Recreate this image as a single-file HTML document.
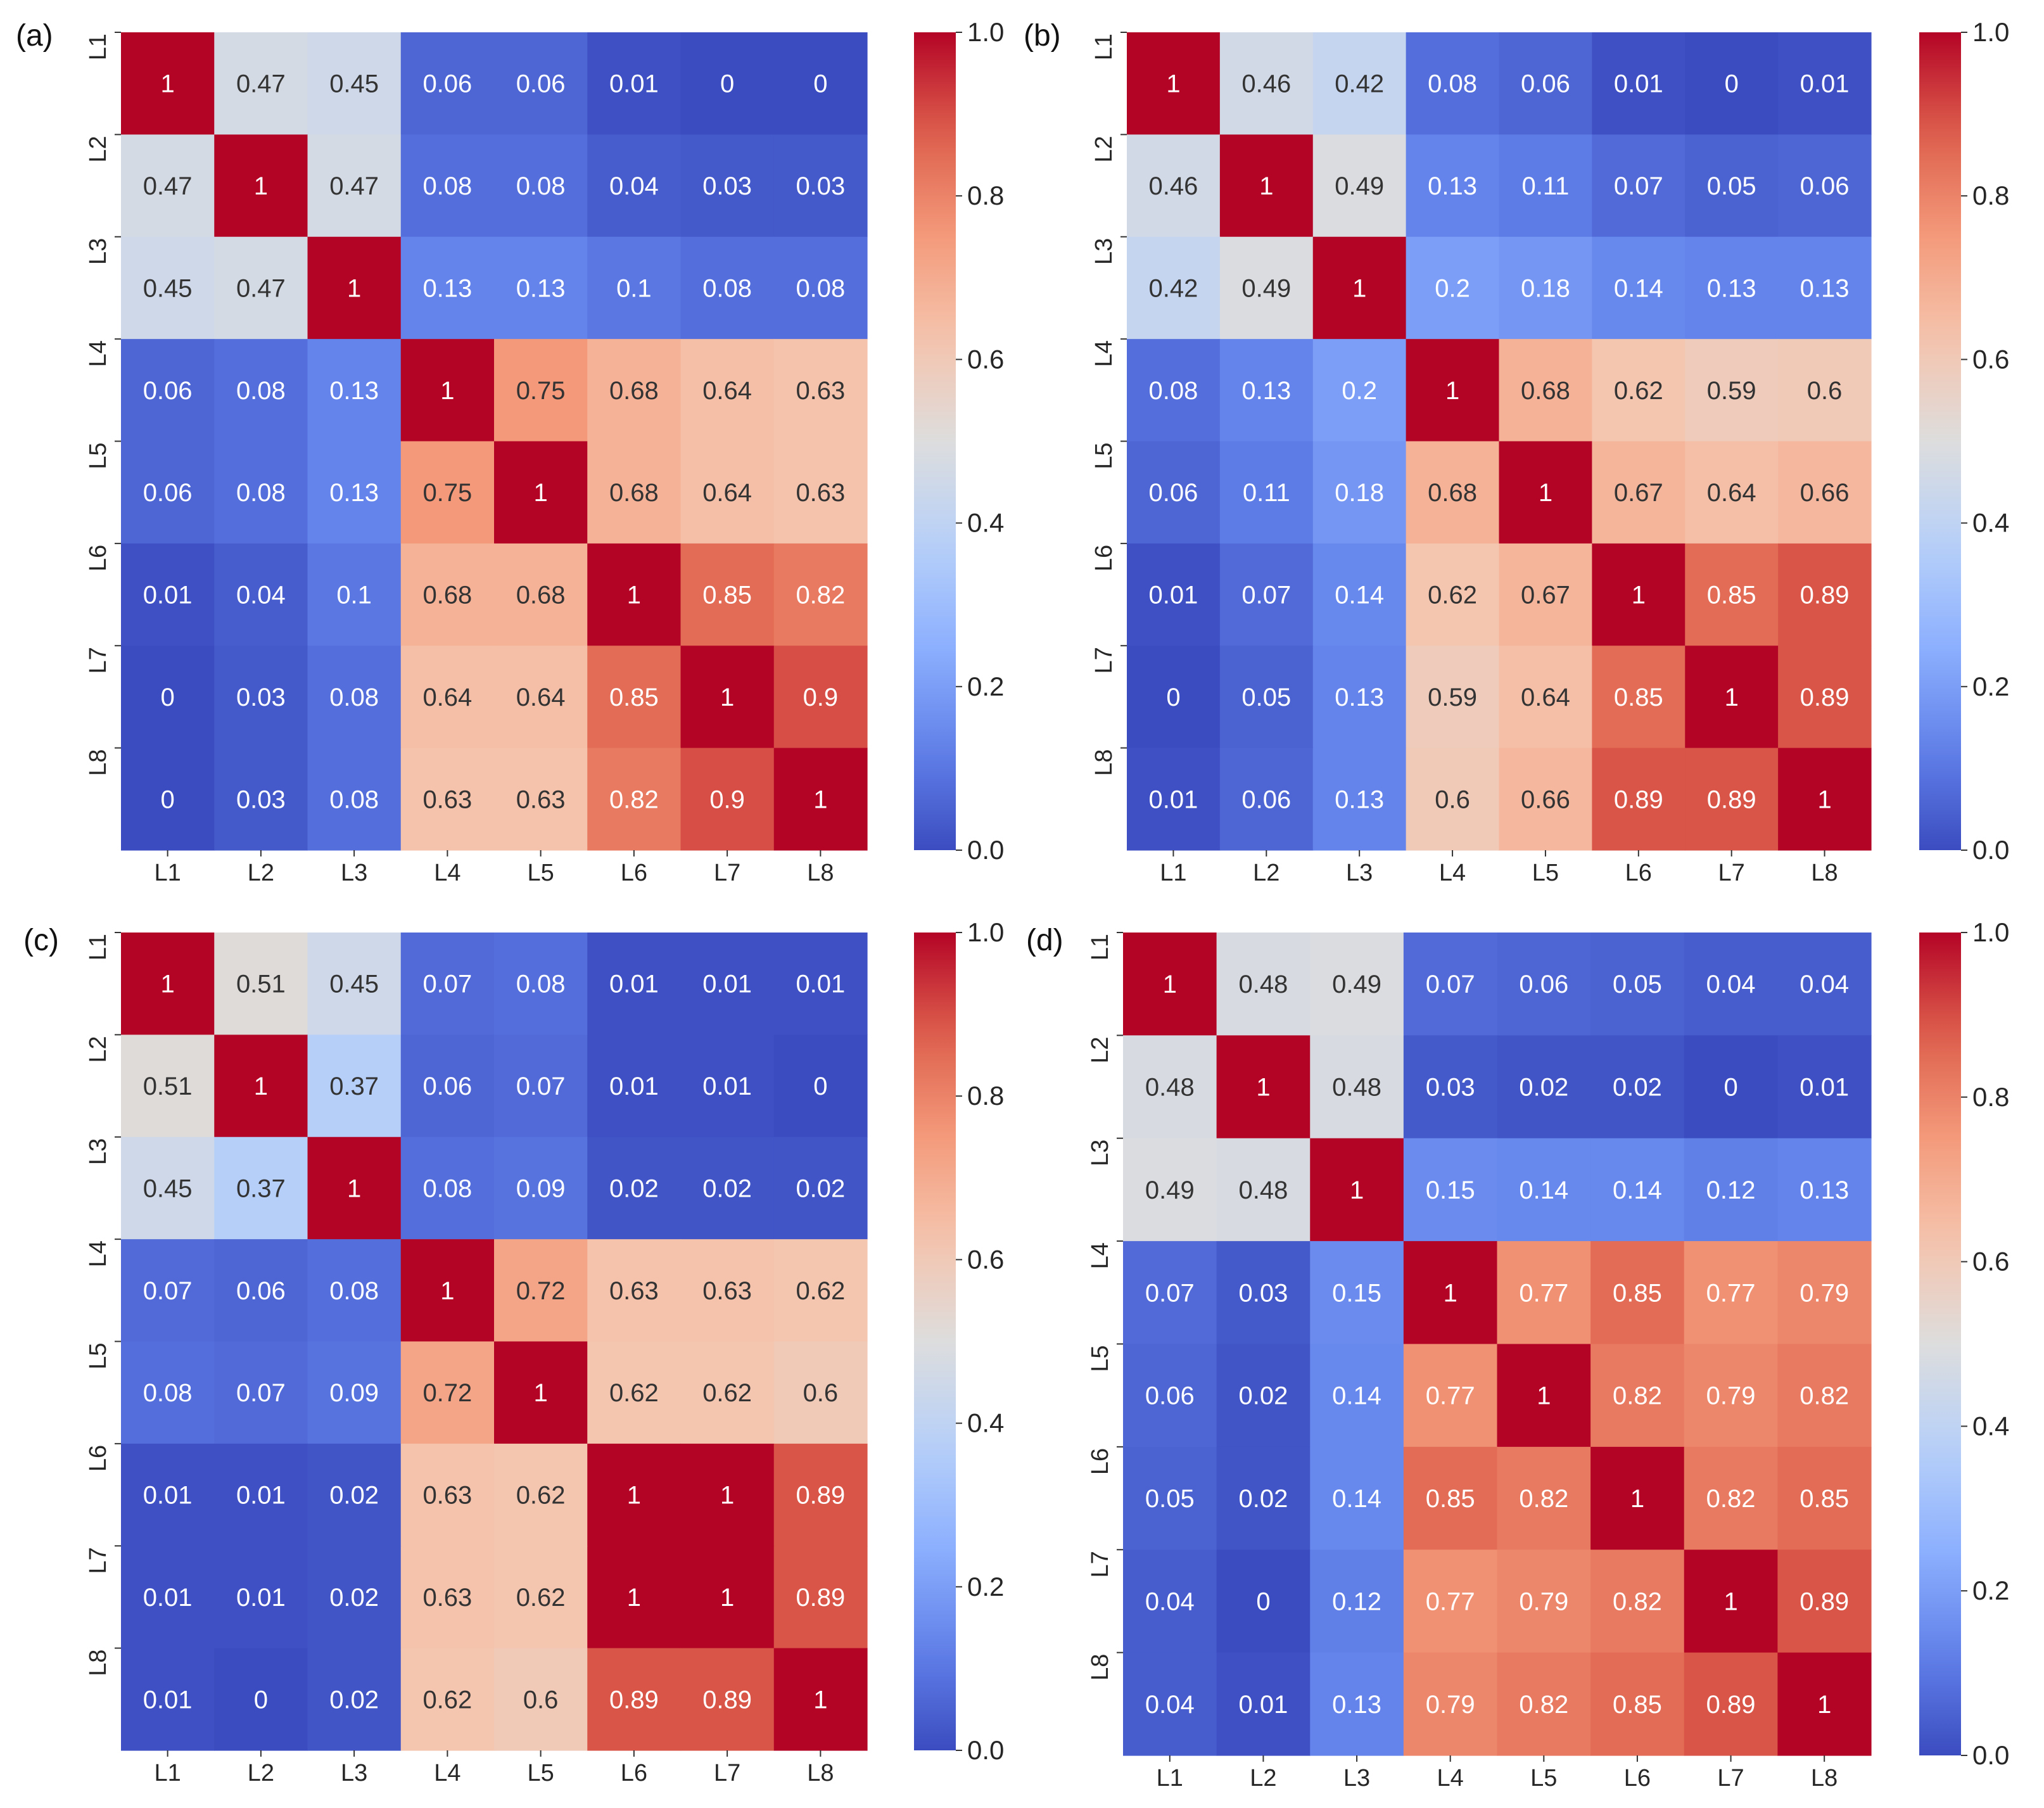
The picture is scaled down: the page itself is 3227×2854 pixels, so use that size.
<!DOCTYPE html>
<html><head><meta charset="utf-8"><style>
html,body{margin:0;padding:0;background:#fff;}
svg{display:block;font-family:"Liberation Sans",Arial,sans-serif;}
</style></head><body>
<svg id="fig" width="3227" height="2854" viewBox="0 0 3227 2854" xmlns="http://www.w3.org/2000/svg"></svg>
<script>
const labels = ["L1","L2","L3","L4","L5","L6","L7","L8"];
const cbTicks = [0,0.2,0.4,0.6,0.8,1.0];
const matA = [
[1,0.47,0.45,0.06,0.06,0.01,0,0],
[0.47,1,0.47,0.08,0.08,0.04,0.03,0.03],
[0.45,0.47,1,0.13,0.13,0.1,0.08,0.08],
[0.06,0.08,0.13,1,0.75,0.68,0.64,0.63],
[0.06,0.08,0.13,0.75,1,0.68,0.64,0.63],
[0.01,0.04,0.1,0.68,0.68,1,0.85,0.82],
[0,0.03,0.08,0.64,0.64,0.85,1,0.9],
[0,0.03,0.08,0.63,0.63,0.82,0.9,1]];
const matB = [
[1,0.46,0.42,0.08,0.06,0.01,0,0.01],
[0.46,1,0.49,0.13,0.11,0.07,0.05,0.06],
[0.42,0.49,1,0.2,0.18,0.14,0.13,0.13],
[0.08,0.13,0.2,1,0.68,0.62,0.59,0.6],
[0.06,0.11,0.18,0.68,1,0.67,0.64,0.66],
[0.01,0.07,0.14,0.62,0.67,1,0.85,0.89],
[0,0.05,0.13,0.59,0.64,0.85,1,0.89],
[0.01,0.06,0.13,0.6,0.66,0.89,0.89,1]];
const matC = [
[1,0.51,0.45,0.07,0.08,0.01,0.01,0.01],
[0.51,1,0.37,0.06,0.07,0.01,0.01,0],
[0.45,0.37,1,0.08,0.09,0.02,0.02,0.02],
[0.07,0.06,0.08,1,0.72,0.63,0.63,0.62],
[0.08,0.07,0.09,0.72,1,0.62,0.62,0.6],
[0.01,0.01,0.02,0.63,0.62,1,1,0.89],
[0.01,0.01,0.02,0.63,0.62,1,1,0.89],
[0.01,0,0.02,0.62,0.6,0.89,0.89,1]];
const matD = [
[1,0.48,0.49,0.07,0.06,0.05,0.04,0.04],
[0.48,1,0.48,0.03,0.02,0.02,0,0.01],
[0.49,0.48,1,0.15,0.14,0.14,0.12,0.13],
[0.07,0.03,0.15,1,0.77,0.85,0.77,0.79],
[0.06,0.02,0.14,0.77,1,0.82,0.79,0.82],
[0.05,0.02,0.14,0.85,0.82,1,0.82,0.85],
[0.04,0,0.12,0.77,0.79,0.82,1,0.89],
[0.04,0.01,0.13,0.79,0.82,0.85,0.89,1]];

const NS="http://www.w3.org/2000/svg";
const svg=document.getElementById('fig');
const stops=[[0,[59,76,192]],[0.125,[98,130,234]],[0.25,[141,176,254]],[0.375,[184,208,249]],[0.5,[221,221,221]],[0.625,[245,196,173]],[0.75,[244,154,123]],[0.875,[222,96,77]],[1,[180,4,38]]];
function cmap(v){v=Math.max(0,Math.min(1,v));for(let i=0;i<stops.length-1;i++){const[a,ca]=stops[i],[b,cb]=stops[i+1];if(v<=b){const t=(v-a)/(b-a);return ca.map((c,k)=>Math.round(c+(cb[k]-c)*t));}}return stops[8][1];}
function lum(c){const f=x=>{x/=255;return x<=0.03928?x/12.92:Math.pow((x+0.055)/1.055,2.4)};return 0.2126*f(c[0])+0.7152*f(c[1])+0.0722*f(c[2]);}
function el(tag,attrs,parent){const e=document.createElementNS(NS,tag);for(const k in attrs)e.setAttribute(k,attrs[k]);(parent||svg).appendChild(e);return e;}

const panels=[
 {name:'a',m:matA,x:191,y:51,w:1178,h:1291,cbx:1443,lx:25,ly:72},
 {name:'b',m:matB,x:1779,y:51,w:1175,h:1291,cbx:3030,lx:1616,ly:72},
 {name:'c',m:matC,x:191,y:1472,w:1178,h:1291,cbx:1443,lx:37,ly:1500},
 {name:'d',m:matD,x:1773,y:1472,w:1181,h:1299,cbx:3030,lx:1620,ly:1500}
];
const defs=el('defs',{});
const grad=el('linearGradient',{id:'cbgrad',x1:0,y1:1,x2:0,y2:0},defs);
for(let i=0;i<=20;i++){const c=cmap(i/20);el('stop',{offset:(i/20),'stop-color':`rgb(${c})`},grad);}

panels.forEach(p=>{
 const g=el('g',{});
 
 
 const n=labels.length, cw=p.w/n, ch=p.h/n;
 const xs=i=>p.x+i*cw, ys=j=>p.y+j*ch;
 p.m.forEach((row,j)=>row.forEach((v,i)=>{
  const c=cmap(v);
  const r=el('rect',{x:xs(i),y:ys(j),width:cw+0.6,height:ch+0.6,fill:`rgb(${c})`},g);
  
  
  const t=el('text',{x:xs(i)+cw/2,y:ys(j)+ch/2+14,'text-anchor':'middle','font-size':40,fill:lum(c)>0.408?'#333333':'#ffffff'},g);
  
  
  t.textContent=String(v);
 }));
 labels.forEach((l,i)=>{
  el('line',{x1:xs(i)+cw/2,y1:p.y+p.h,x2:xs(i)+cw/2,y2:p.y+p.h+10,stroke:'#333','stroke-width':2},g);
  const t=el('text',{x:xs(i)+cw/2,y:p.y+p.h+48,'text-anchor':'middle','font-size':38,fill:'#262626'},g);
  
  
  t.textContent=l;
  const yy=ys(i);
  el('line',{x1:p.x-10,y1:yy,x2:p.x,y2:yy,stroke:'#333','stroke-width':2},g);
  const ty=el('text',{x:0,y:0,'text-anchor':'end','font-size':38,fill:'#262626',transform:`translate(${p.x-24},${yy+2}) rotate(-90)`},g);
  
  
  ty.textContent=l;
 });
 const cb=el('rect',{x:p.cbx,y:p.y,width:66,height:p.h,fill:'url(#cbgrad)'},g);
 
 
 cbTicks.forEach(v=>{
  const yy=p.y+p.h-v*p.h;
  el('line',{x1:p.cbx+66,y1:yy,x2:p.cbx+76,y2:yy,stroke:'#333','stroke-width':2},g);
  const t=el('text',{x:p.cbx+84,y:yy+14,'font-size':42,fill:'#262626'},g);
  
  
  t.textContent=v.toFixed(1);
 });
 const lt=el('text',{x:p.lx,y:p.ly,'font-size':48,fill:'#111'},g);
 
 
 lt.textContent='('+p.name+')';
});
</script>
</body></html>
